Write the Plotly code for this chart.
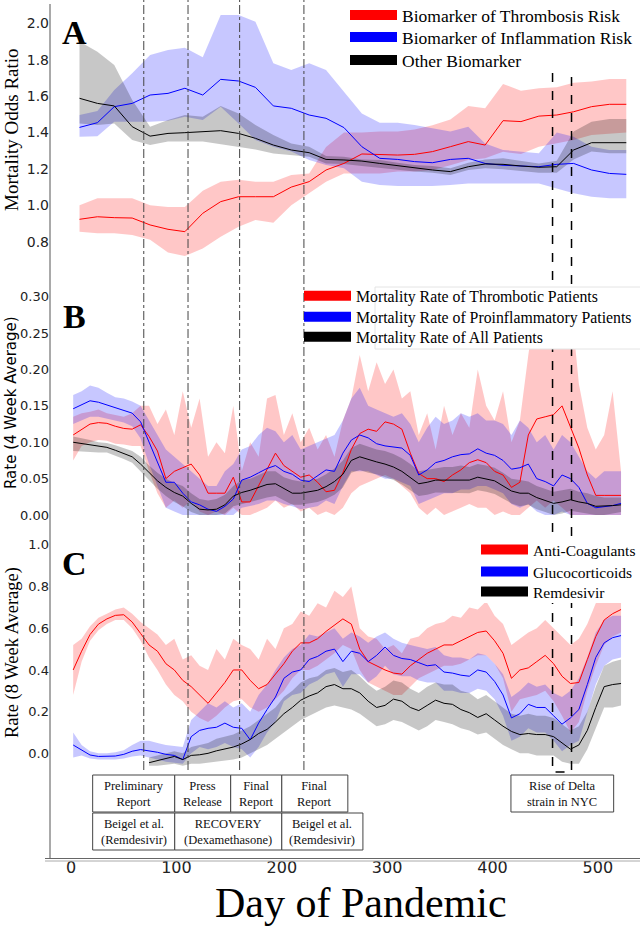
import plotly.graph_objects as go

# ---------------- Panel A (odds ratios) ----------------
days_a = [8, 25, 41, 58, 75, 92, 108, 125, 142, 159, 175, 192, 209, 226, 242, 259,
          276, 293, 310, 326, 343, 360, 377, 393, 410, 427, 444, 461, 477, 494, 511, 527]
red_a = [0.923, 0.937, 0.932, 0.930, 0.892, 0.868, 0.855, 0.956, 1.020, 1.047, 1.047, 1.047, 1.100, 1.130, 1.194, 1.230,
         1.282, 1.280, 1.276, 1.280, 1.295, 1.322, 1.350, 1.331, 1.465, 1.460, 1.490, 1.496, 1.514, 1.542, 1.555, 1.555]
red_a_hi = [1.000, 1.038, 1.038, 1.038, 1.000, 0.990, 0.990, 1.080, 1.130, 1.140, 1.130, 1.130, 1.166, 1.175, 1.320, 1.400,
            1.400, 1.405, 1.405, 1.417, 1.440, 1.472, 1.546, 1.533, 1.667, 1.630, 1.643, 1.648, 1.674, 1.680, 1.694, 1.694]
red_a_lo = [0.855, 0.846, 0.846, 0.837, 0.810, 0.740, 0.721, 0.763, 0.827, 0.882, 0.919, 0.904, 1.000, 1.066, 1.130, 1.175,
            1.175, 1.175, 1.185, 1.185, 1.194, 1.220, 1.249, 1.258, 1.294, 1.282, 1.322, 1.340, 1.359, 1.386, 1.395, 1.400]
blue_a = [1.428, 1.454, 1.542, 1.560, 1.606, 1.615, 1.643, 1.606, 1.692, 1.683, 1.648, 1.546, 1.533, 1.496, 1.478, 1.427,
          1.322, 1.258, 1.252, 1.240, 1.234, 1.252, 1.258, 1.230, 1.220, 1.218, 1.212, 1.225, 1.230, 1.194, 1.175, 1.170]
blue_a_hi = [1.496, 1.518, 1.634, 1.725, 1.826, 1.853, 1.866, 1.813, 2.046, 2.046, 2.009, 1.780, 1.744, 1.780, 1.744, 1.624,
             1.505, 1.454, 1.454, 1.441, 1.423, 1.405, 1.432, 1.340, 1.304, 1.295, 1.286, 1.400, 1.377, 1.322, 1.304, 1.304]
blue_a_lo = [1.377, 1.380, 1.459, 1.459, 1.459, 1.465, 1.487, 1.469, 1.542, 1.450, 1.359, 1.322, 1.295, 1.249, 1.221, 1.203,
             1.130, 1.111, 1.106, 1.106, 1.106, 1.111, 1.120, 1.120, 1.120, 1.120, 1.120, 1.093, 1.066, 1.047, 1.038, 1.038]
black_a = [1.588, 1.560, 1.546, 1.432, 1.380, 1.395, 1.399, 1.405, 1.410, 1.395, 1.368, 1.331, 1.304, 1.289, 1.252, 1.249,
           1.243, 1.230, 1.218, 1.203, 1.194, 1.185, 1.212, 1.227, 1.225, 1.216, 1.209, 1.212, 1.304, 1.344, 1.344, 1.344]
black_a_hi = [1.900, 1.844, 1.771, 1.579, 1.432, 1.469, 1.496, 1.487, 1.546, 1.505, 1.441, 1.386, 1.340, 1.322, 1.271, 1.267,
              1.252, 1.249, 1.234, 1.221, 1.216, 1.203, 1.234, 1.252, 1.258, 1.245, 1.230, 1.245, 1.405, 1.459, 1.474, 1.474]
black_a_lo = [1.450, 1.441, 1.450, 1.359, 1.331, 1.350, 1.350, 1.350, 1.337, 1.322, 1.307, 1.285, 1.276, 1.267, 1.230, 1.227,
              1.216, 1.203, 1.194, 1.185, 1.179, 1.166, 1.194, 1.203, 1.198, 1.190, 1.179, 1.179, 1.252, 1.295, 1.286, 1.286]

# ---------------- Panels B and C (daily rates, sampled) ----------------
days = [2, 10, 18, 26, 34, 42, 50, 58, 66, 74,
        82, 90, 98, 106, 114, 122, 130, 138, 146, 154,
        162, 170, 178, 186, 194, 202, 210, 218, 226, 234,
        242, 250, 258, 266, 274, 282, 290, 298, 306, 314,
        322, 330, 338, 346, 354, 362, 370, 378, 386, 394,
        402, 410, 418, 426, 434, 442, 450, 458, 466, 474,
        482, 490, 498, 506, 514, 522]

red_b = [0.110, 0.118, 0.125, 0.127, 0.126, 0.122, 0.119, 0.118, 0.124, 0.108,
         0.088, 0.050, 0.060, 0.065, 0.070, 0.055, 0.030, 0.030, 0.030, 0.052,
         0.018, 0.018, 0.040, 0.062, 0.085, 0.068, 0.060, 0.052, 0.055, 0.045,
         0.032, 0.034, 0.058, 0.090, 0.112, 0.118, 0.115, 0.128, 0.125, 0.118,
         0.085, 0.057, 0.050, 0.050, 0.046, 0.055, 0.062, 0.072, 0.076, 0.072,
         0.060, 0.055, 0.038, 0.045, 0.110, 0.132, 0.135, 0.138, 0.150, 0.120,
         0.092, 0.055, 0.027, 0.027, 0.027, 0.027]
red_b_hi = [0.135, 0.140, 0.142, 0.145, 0.140, 0.138, 0.135, 0.140, 0.150, 0.150,
            0.125, 0.145, 0.110, 0.170, 0.120, 0.160, 0.080, 0.100, 0.085, 0.150,
            0.060, 0.100, 0.080, 0.160, 0.165, 0.110, 0.140, 0.100, 0.120, 0.090,
            0.110, 0.080, 0.130, 0.160, 0.220, 0.170, 0.210, 0.180, 0.200, 0.160,
            0.170, 0.110, 0.140, 0.090, 0.150, 0.110, 0.140, 0.120, 0.200, 0.150,
            0.130, 0.170, 0.100, 0.130, 0.220, 0.300, 0.300, 0.300, 0.300, 0.300,
            0.180, 0.120, 0.090, 0.110, 0.170, 0.060]
red_b_lo = [0.075, 0.095, 0.100, 0.103, 0.102, 0.098, 0.097, 0.095, 0.095, 0.060,
            0.030, 0.010, 0.020, 0.010, 0.020, 0.005, 0.000, 0.005, 0.000, 0.010,
            0.000, 0.000, 0.005, 0.010, 0.020, 0.010, 0.015, 0.005, 0.010, 0.000,
            0.005, 0.000, 0.010, 0.030, 0.040, 0.045, 0.050, 0.055, 0.050, 0.040,
            0.030, 0.010, 0.000, 0.010, 0.000, 0.005, 0.010, 0.015, 0.010, 0.010,
            0.000, 0.005, 0.000, 0.000, 0.010, 0.020, 0.010, 0.020, 0.010, 0.000,
            0.000, 0.000, 0.000, 0.000, 0.000, 0.000]
blue_b = [0.146, 0.152, 0.157, 0.155, 0.151, 0.147, 0.144, 0.140, 0.128, 0.100,
          0.072, 0.045, 0.045, 0.030, 0.018, 0.014, 0.008, 0.005, 0.012, 0.022,
          0.048, 0.052, 0.058, 0.064, 0.068, 0.060, 0.056, 0.048, 0.046, 0.054,
          0.062, 0.060, 0.085, 0.103, 0.110, 0.106, 0.098, 0.095, 0.093, 0.092,
          0.082, 0.055, 0.062, 0.072, 0.075, 0.080, 0.083, 0.084, 0.091, 0.085,
          0.082, 0.075, 0.063, 0.065, 0.070, 0.050, 0.046, 0.040, 0.055, 0.050,
          0.038, 0.016, 0.010, 0.011, 0.013, 0.016]
blue_b_hi = [0.165, 0.170, 0.178, 0.175, 0.168, 0.162, 0.160, 0.156, 0.150, 0.130,
             0.110, 0.090, 0.080, 0.070, 0.060, 0.050, 0.040, 0.040, 0.060, 0.070,
             0.090, 0.095, 0.110, 0.120, 0.115, 0.100, 0.110, 0.090, 0.095, 0.100,
             0.105, 0.110, 0.130, 0.160, 0.175, 0.150, 0.145, 0.140, 0.135, 0.140,
             0.125, 0.100, 0.120, 0.135, 0.125, 0.130, 0.140, 0.135, 0.140, 0.130,
             0.130, 0.125, 0.110, 0.130, 0.120, 0.100, 0.110, 0.090, 0.110, 0.100,
             0.080, 0.060, 0.050, 0.060, 0.060, 0.060]
blue_b_lo = [0.125, 0.130, 0.135, 0.135, 0.133, 0.130, 0.127, 0.122, 0.105, 0.070,
             0.040, 0.010, 0.005, 0.000, 0.000, 0.000, 0.000, 0.000, 0.000, 0.000,
             0.010, 0.012, 0.015, 0.020, 0.020, 0.015, 0.012, 0.008, 0.010, 0.012,
             0.020, 0.015, 0.040, 0.060, 0.060, 0.060, 0.055, 0.050, 0.050, 0.045,
             0.040, 0.015, 0.020, 0.025, 0.030, 0.030, 0.035, 0.035, 0.040, 0.040,
             0.035, 0.030, 0.015, 0.010, 0.015, 0.005, 0.000, 0.000, 0.005, 0.000,
             0.000, 0.000, 0.000, 0.000, 0.000, 0.000]
black_b = [0.100, 0.098, 0.096, 0.094, 0.093, 0.089, 0.085, 0.080, 0.070, 0.058,
           0.047, 0.038, 0.031, 0.026, 0.016, 0.008, 0.007, 0.008, 0.014, 0.026,
           0.031, 0.034, 0.038, 0.042, 0.043, 0.036, 0.030, 0.030, 0.032, 0.034,
           0.039, 0.046, 0.056, 0.075, 0.080, 0.076, 0.073, 0.070, 0.066, 0.060,
           0.052, 0.043, 0.045, 0.048, 0.048, 0.048, 0.049, 0.048, 0.052, 0.050,
           0.047, 0.040, 0.033, 0.030, 0.030, 0.024, 0.020, 0.016, 0.018, 0.021,
           0.018, 0.016, 0.012, 0.012, 0.013, 0.014]
black_b_hi = [0.108, 0.106, 0.103, 0.100, 0.099, 0.096, 0.092, 0.088, 0.080, 0.068,
              0.058, 0.050, 0.044, 0.040, 0.030, 0.022, 0.020, 0.022, 0.028, 0.040,
              0.048, 0.050, 0.055, 0.060, 0.060, 0.052, 0.048, 0.046, 0.048, 0.050,
              0.056, 0.064, 0.075, 0.092, 0.098, 0.094, 0.090, 0.088, 0.084, 0.078,
              0.070, 0.060, 0.062, 0.065, 0.066, 0.066, 0.068, 0.066, 0.070, 0.068,
              0.065, 0.058, 0.050, 0.048, 0.046, 0.040, 0.036, 0.032, 0.034, 0.036,
              0.032, 0.030, 0.026, 0.024, 0.024, 0.024]
black_b_lo = [0.088, 0.088, 0.087, 0.086, 0.086, 0.082, 0.077, 0.072, 0.060, 0.048,
              0.036, 0.026, 0.018, 0.012, 0.004, 0.000, 0.000, 0.000, 0.002, 0.012,
              0.014, 0.018, 0.021, 0.024, 0.026, 0.020, 0.014, 0.014, 0.016, 0.018,
              0.022, 0.028, 0.038, 0.058, 0.062, 0.058, 0.056, 0.052, 0.048, 0.042,
              0.034, 0.026, 0.028, 0.031, 0.030, 0.030, 0.030, 0.030, 0.034, 0.032,
              0.029, 0.022, 0.016, 0.012, 0.014, 0.008, 0.004, 0.000, 0.002, 0.006,
              0.004, 0.002, 0.000, 0.000, 0.002, 0.004]

red_c = [0.40, 0.49, 0.57, 0.62, 0.645, 0.662, 0.665, 0.63, 0.575, 0.52,
         0.49, 0.43, 0.40, 0.35, 0.32, 0.28, 0.24, 0.29, 0.34, 0.40,
         0.40, 0.35, 0.31, 0.33, 0.38, 0.43, 0.49, 0.53, 0.53, 0.55,
         0.585, 0.615, 0.645, 0.62, 0.50, 0.44, 0.42, 0.40, 0.385, 0.38,
         0.42, 0.45, 0.48, 0.50, 0.52, 0.52, 0.54, 0.56, 0.58, 0.587,
         0.54, 0.48, 0.36, 0.40, 0.41, 0.44, 0.47, 0.43, 0.37, 0.335,
         0.34, 0.45, 0.56, 0.64, 0.67, 0.69]
red_c_hi = [0.52, 0.55, 0.61, 0.65, 0.67, 0.69, 0.70, 0.67, 0.63, 0.60,
            0.57, 0.52, 0.55, 0.45, 0.47, 0.42, 0.40, 0.50, 0.45, 0.55,
            0.52, 0.50, 0.45, 0.55, 0.50, 0.60, 0.62, 0.68, 0.66, 0.72,
            0.70, 0.78, 0.75, 0.80, 0.60, 0.56, 0.55, 0.50, 0.52, 0.48,
            0.55, 0.56, 0.60, 0.62, 0.63, 0.66, 0.65, 0.70, 0.69, 0.73,
            0.66, 0.62, 0.52, 0.55, 0.58, 0.60, 0.64, 0.60, 0.56, 0.52,
            0.55, 0.62, 0.72, 0.74, 0.74, 0.74]
red_c_lo = [0.28, 0.44, 0.54, 0.59, 0.62, 0.64, 0.64, 0.60, 0.54, 0.46,
            0.40, 0.33, 0.28, 0.25, 0.20, 0.17, 0.15, 0.18, 0.22, 0.25,
            0.26, 0.22, 0.20, 0.22, 0.26, 0.30, 0.36, 0.40, 0.40, 0.42,
            0.45, 0.48, 0.52, 0.50, 0.40, 0.34, 0.32, 0.30, 0.28, 0.28,
            0.32, 0.36, 0.38, 0.40, 0.42, 0.42, 0.43, 0.45, 0.47, 0.47,
            0.43, 0.36, 0.20, 0.26, 0.27, 0.28, 0.30, 0.25, 0.18, 0.10,
            0.15, 0.30, 0.42, 0.52, 0.56, 0.58]
blue_c = [0.04, 0.015, -0.008, -0.015, -0.015, -0.013, -0.005, 0.010, 0.018, 0.012,
          0.005, -0.005, -0.010, -0.030, 0.080, 0.110, 0.120, 0.125, 0.145, 0.125,
          0.120, 0.065, 0.145, 0.210, 0.270, 0.360, 0.390, 0.400, 0.450, 0.465,
          0.490, 0.500, 0.440, 0.490, 0.480, 0.440, 0.470, 0.510, 0.470, 0.455,
          0.450, 0.435, 0.420, 0.425, 0.390, 0.385, 0.375, 0.370, 0.400, 0.390,
          0.345, 0.280, 0.170, 0.190, 0.235, 0.220, 0.220, 0.180, 0.140, 0.170,
          0.210, 0.330, 0.460, 0.530, 0.555, 0.565]
blue_c_hi = [0.10, 0.04, 0.01, 0.00, 0.00, 0.005, 0.015, 0.04, 0.06, 0.06,
             0.05, 0.04, 0.035, 0.03, 0.16, 0.20, 0.24, 0.22, 0.25, 0.22,
             0.24, 0.20, 0.28, 0.33, 0.40, 0.46, 0.50, 0.52, 0.57, 0.56,
             0.58, 0.60, 0.55, 0.58, 0.56, 0.53, 0.56, 0.58, 0.55, 0.53,
             0.52, 0.51, 0.50, 0.51, 0.47, 0.46, 0.46, 0.45, 0.48, 0.47,
             0.43, 0.38, 0.27, 0.30, 0.34, 0.32, 0.33, 0.29, 0.27, 0.30,
             0.36, 0.46, 0.58, 0.64, 0.66, 0.66]
blue_c_lo = [-0.02, -0.01, -0.025, -0.03, -0.03, -0.03, -0.025, -0.015, -0.01, -0.02,
             -0.03, -0.04, -0.045, -0.05, 0.00, 0.03, 0.02, 0.03, 0.05, 0.03,
             0.02, -0.02, 0.03, 0.10, 0.15, 0.25, 0.28, 0.29, 0.33, 0.35,
             0.38, 0.39, 0.32, 0.38, 0.38, 0.34, 0.37, 0.42, 0.38, 0.37,
             0.37, 0.35, 0.34, 0.34, 0.30, 0.30, 0.29, 0.29, 0.31, 0.30,
             0.26, 0.18, 0.06, 0.08, 0.12, 0.10, 0.10, 0.06, 0.01, 0.04,
             0.06, 0.19, 0.33, 0.42, 0.45, 0.46]
black_c = [None, None, None, None, None, None, None, None, None, -0.045,
           -0.035, -0.025, -0.015, -0.030, -0.010, -0.007, 0.000, 0.012, 0.022, 0.030,
           0.045, 0.066, 0.095, 0.115, 0.150, 0.190, 0.220, 0.255, 0.275, 0.290,
           0.320, 0.330, 0.310, 0.310, 0.290, 0.250, 0.220, 0.230, 0.260, 0.250,
           0.220, 0.205, 0.230, 0.255, 0.240, 0.235, 0.210, 0.195, 0.172, 0.190,
           0.160, 0.130, 0.105, 0.090, 0.095, 0.090, 0.090, 0.080, 0.050, 0.020,
           0.040, 0.110, 0.220, 0.320, 0.330, 0.335]
black_c_hi = [None, None, None, None, None, None, None, None, None, -0.02,
              -0.01, 0.00, 0.01, 0.00, 0.03, 0.04, 0.05, 0.07, 0.08, 0.09,
              0.11, 0.13, 0.16, 0.19, 0.22, 0.27, 0.30, 0.34, 0.36, 0.37,
              0.40, 0.41, 0.39, 0.40, 0.37, 0.33, 0.30, 0.32, 0.35, 0.34,
              0.31, 0.29, 0.32, 0.34, 0.33, 0.33, 0.30, 0.29, 0.26, 0.28,
              0.25, 0.22, 0.19, 0.18, 0.19, 0.18, 0.18, 0.17, 0.14, 0.11,
              0.13, 0.20, 0.32, 0.42, 0.44, 0.45]
black_c_lo = [None, None, None, None, None, None, None, None, None, -0.06,
              -0.06, -0.055, -0.05, -0.06, -0.05, -0.05, -0.045, -0.04, -0.035, -0.03,
              -0.02, 0.00, 0.02, 0.04, 0.07, 0.10, 0.13, 0.16, 0.18, 0.20,
              0.22, 0.23, 0.22, 0.21, 0.19, 0.16, 0.13, 0.14, 0.16, 0.15,
              0.13, 0.11, 0.13, 0.16, 0.15, 0.14, 0.12, 0.11, 0.09, 0.10,
              0.07, 0.04, 0.02, 0.00, 0.00, -0.01, -0.01, -0.01, -0.04, -0.05,
              -0.05, 0.02, 0.12, 0.22, 0.22, 0.23]

legend_a = ["Biomarker of Thrombosis Risk", "Biomarker of Inflammation Risk", "Other Biomarker"]
legend_b = ["Mortality Rate of Thrombotic Patients", "Mortality Rate of Proinflammatory Patients",
            "Mortality Rate of All Patients"]
legend_c = ["Anti-Coagulants", "Glucocorticoids", "Remdesivir"]

event_days = [69, 111, 160, 221]
delta_days = [457, 475]

table_labels = ["Preliminary<br>Report", "Press<br>Release", "Final<br>Report", "Final<br>Report",
                "Beigel et al.<br>(Remdesivir)", "RECOVERY<br>(Dexamethasone)", "Beigel et al.<br>(Remdesivir)",
                "Rise of Delta<br>strain in NYC"]
table_x0 = [20.5, 98.4, 151.5, 200, 20.5, 98.4, 200, 417.5]
table_x1 = [98.4, 151.5, 200, 262.7, 98.4, 200, 277, 515]
table_row = [0, 0, 0, 0, 1, 1, 1, 0]

xticks = [0, 100, 200, 300, 400, 500]

# ---------------- styling ----------------
W, H = 640, 930
LINE_COLORS = ["#ff0000", "#0000ff", "#000000"]
BAND_COLORS = ["rgba(255,0,0,0.22)", "rgba(0,0,255,0.22)", "rgba(0,0,0,0.22)"]
SERIF = "Liberation Serif, Times New Roman, serif"
SANS = "DejaVu Sans, sans-serif"

# legend placement per panel: left x (px), row centres (px), font size
LEGEND_POS = [(345, [15, 37, 60], 17.5), (299, [296, 317, 337], 15.8), (476, [550, 572, 592], 15.5)]


def py(p):  # pixel from top -> paper fraction
    return 1 - p / H


def px(p):
    return p / W


def band(xs, hi, lo, color, xa, ya):
    pts = [(x, h, l) for x, h, l in zip(xs, hi, lo) if h is not None and l is not None]
    bx = [p[0] for p in pts] + [p[0] for p in pts[::-1]]
    by = [p[1] for p in pts] + [p[2] for p in pts[::-1]]
    return go.Scatter(x=bx, y=by, fill="toself", fillcolor=color, mode="lines",
                      line=dict(width=0, color="rgba(0,0,0,0)"), xaxis=xa, yaxis=ya,
                      showlegend=False, hoverinfo="skip")


def line(xs, ys, color, xa, ya):
    return go.Scatter(x=xs, y=ys, mode="lines", line=dict(color=color, width=1),
                      xaxis=xa, yaxis=ya, showlegend=False, hoverinfo="skip", connectgaps=False)


fig = go.Figure()

panels = [
    ("x", "y", days_a, [(red_a, red_a_hi, red_a_lo), (blue_a, blue_a_hi, blue_a_lo), (black_a, black_a_hi, black_a_lo)], legend_a),
    ("x2", "y2", days, [(red_b, red_b_hi, red_b_lo), (blue_b, blue_b_hi, blue_b_lo), (black_b, black_b_hi, black_b_lo)], legend_b),
    ("x3", "y3", days, [(red_c, red_c_hi, red_c_lo), (blue_c, blue_c_hi, blue_c_lo), (black_c, black_c_hi, black_c_lo)], legend_c),
]

legend_layout = {}
for pi, (xa, ya, xs, series, names) in enumerate(panels):
    for (m, hi, lo), bc in zip(series, BAND_COLORS):
        fig.add_trace(band(xs, hi, lo, bc, xa, ya))
    for (m, hi, lo), lc in zip(series, LINE_COLORS):
        fig.add_trace(line(xs, m, lc, xa, ya))
    lx, rows, fs = LEGEND_POS[pi]
    for ri, (name, lc) in enumerate(zip(names, LINE_COLORS)):
        n = pi * 3 + ri + 1
        lid = "legend" if n == 1 else f"legend{n}"
        fig.add_trace(go.Scatter(x=[None], y=[None], mode="lines", name=name,
                                 line=dict(color=lc, width=10), xaxis=xa, yaxis=ya,
                                 legend=lid, showlegend=True))
        legend_layout[lid] = dict(x=px(lx), y=py(rows[ri]), xanchor="left", yanchor="middle",
                                  bgcolor="rgba(0,0,0,0)", borderwidth=0, itemwidth=47,
                                  font=dict(family=SERIF, size=fs, color="black"))

# invisible trace carrying the bottom "Day of Pandemic" axis
fig.add_trace(go.Scatter(x=[None], y=[None], xaxis="x4", yaxis="y4", showlegend=False, hoverinfo="skip"))

xdom = [px(50), 1]
xrange_ = [-20, 540]
common_x = dict(domain=xdom, range=xrange_, showgrid=False, zeroline=False, showline=False,
                showticklabels=False, ticks="")
common_y = dict(showgrid=False, zeroline=False, showline=False, ticks="",
                tickfont=dict(family=SANS, size=14, color="#222"))

fig.update_layout(
    width=W, height=H, autosize=False, margin=dict(l=0, r=0, t=0, b=0, autoexpand=False),
    paper_bgcolor="white", plot_bgcolor="rgba(0,0,0,0)",
    xaxis=dict(common_x, anchor="y"),
    xaxis2=dict(common_x, anchor="y2", matches="x"),
    xaxis3=dict(common_x, anchor="y3", matches="x"),
    xaxis4=dict(domain=[px(45), 1], range=[-24.75, 540], anchor="y4",
                showline=True, linecolor="#666", linewidth=1, ticks="", showgrid=False, zeroline=False,
                tickvals=xticks, tickfont=dict(family=SANS, size=16, color="#222"), ticklabelstandoff=-5),
    yaxis4=dict(domain=[py(858), py(856)], range=[0, 1], anchor="x4", visible=False),
    yaxis=dict(common_y, domain=[py(280), py(5)], range=[0.5894, 2.1007], anchor="x",
               tickvals=[0.8, 1.0, 1.2, 1.4, 1.6, 1.8, 2.0], tickformat=".1f"),
    yaxis2=dict(common_y, domain=[py(525), py(285)], range=[-0.0137, 0.3161], anchor="x2",
                tickvals=[0, 0.05, 0.10, 0.15, 0.20, 0.25, 0.30], tickformat=".2f",
                tickfont=dict(family=SANS, size=13, color="#222")),
    yaxis3=dict(common_y, domain=[py(775), py(537)], range=[-0.104, 1.038], anchor="x3",
                tickvals=[0, 0.2, 0.4, 0.6, 0.8, 1.0], tickformat=".1f",
                tickfont=dict(family=SANS, size=13, color="#222")),
    **legend_layout,
)

shapes = []
# left axis line
shapes.append(dict(type="line", xref="paper", yref="paper", x0=px(50), x1=px(50), y0=py(858), y1=py(4),
                   line=dict(color="#555", width=1), layer="above"))
# event lines
for d in event_days:
    shapes.append(dict(type="line", xref="x", yref="paper", x0=d, x1=d, y0=py(770), y1=1,
                       line=dict(color="#444", width=1, dash="dashdot"), layer="above"))
# Delta bracket
a, b = delta_days
shapes.append(dict(type="path", xref="x", yref="paper",
                   path=f"M {a},{py(73)} L {a},{py(772)} L {b},{py(772)} L {b},{py(73)}",
                   line=dict(color="black", width=1.5, dash="dash"), layer="above"))
# legend background boxes (B and C)
shapes.append(dict(type="rect", xref="paper", yref="paper", x0=px(375), x1=1.01, y0=py(349), y1=py(287),
                   fillcolor="white", line=dict(color="#e4e4e4", width=1), layer="above"))
shapes.append(dict(type="rect", xref="paper", yref="paper", x0=px(478), x1=1.01, y0=py(603), y1=py(538),
                   fillcolor="white", line=dict(width=0), layer="above"))
# bottom double line
shapes.append(dict(type="line", xref="paper", yref="paper", x0=px(45), x1=1, y0=py(861), y1=py(861),
                   line=dict(color="#aaa", width=1), layer="above"))

annotations = []
row_y = [(775, 812), (813, 850)]
for lab, x0, x1, r in zip(table_labels, table_x0, table_x1, table_row):
    t, btm = row_y[r]
    shapes.append(dict(type="rect", xref="x", yref="paper", x0=x0, x1=x1, y0=py(btm), y1=py(t),
                       fillcolor="white", line=dict(color="#444", width=1), layer="above"))
    annotations.append(dict(x=(x0 + x1) / 2, y=py((t + btm) / 2), xref="x", yref="paper", text=lab,
                            showarrow=False, xanchor="center", yanchor="middle",
                            font=dict(family=SERIF, size=12.5, color="#111")))

for letter, yy in [("A", 32), ("B", 316), ("C", 563)]:
    annotations.append(dict(x=px(74), y=py(yy), xref="paper", yref="paper", text=f"<b>{letter}</b>",
                            showarrow=False, xanchor="center", yanchor="middle",
                            font=dict(family=SERIF, size=34, color="black")))

annotations.append(dict(x=px(11), y=py(130), xref="paper", yref="paper", text="Mortality Odds Ratio",
                        textangle=-90, showarrow=False, xanchor="center", yanchor="middle",
                        font=dict(family=SERIF, size=19, color="black")))
annotations.append(dict(x=px(11), y=py(403), xref="paper", yref="paper", text="Rate (4 Week Average)",
                        textangle=-90, showarrow=False, xanchor="center", yanchor="middle",
                        font=dict(family=SANS, size=15, color="black")))
annotations.append(dict(x=px(12), y=py(653), xref="paper", yref="paper", text="Rate (8 Week Average)",
                        textangle=-90, showarrow=False, xanchor="center", yanchor="middle",
                        font=dict(family=SERIF, size=18.5, color="black")))
annotations.append(dict(x=px(361), y=py(903), xref="paper", yref="paper", text="Day of Pandemic",
                        showarrow=False, xanchor="center", yanchor="middle",
                        font=dict(family=SERIF, size=42, color="black")))

fig.update_layout(shapes=shapes, annotations=annotations)
fig.write_html("out.html", config={"displayModeBar": False, "responsive": False},
               post_script="document.body.style.margin='0';document.body.style.padding='0';"
                           "document.documentElement.style.overflow='hidden';")
